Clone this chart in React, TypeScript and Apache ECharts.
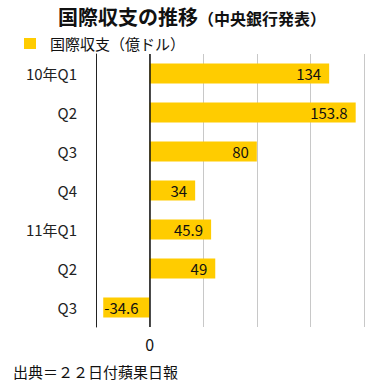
import React, { useEffect, useRef } from "react";
import * as echarts from "echarts";

const categories = ["10年Q1", "Q2", "Q3", "Q4", "11年Q1", "Q2", "Q3"];
const values = [134, 153.8, 80, 34, 45.9, 49, -34.6];
const seriesName = "国際収支（億ドル）";
const titleMain = "国際収支の推移";
const titleSub = "（中央銀行発表）";
const footer = "出典＝２２日付蘋果日報";

const FONT = "'Noto Sans CJK JP', 'Noto Sans', sans-serif";
const YELLOW = "#FFCC00";

export default function App() {
  const ref = useRef<HTMLDivElement>(null);
  useEffect(() => {
    document.body.style.margin = "0";
    const chart = echarts.init(ref.current!, null, { renderer: "svg" });
    chart.setOption({
      animation: false,
      backgroundColor: "#fff",
      textStyle: { fontFamily: FONT },
      title: [
        {
          text: `{a|${titleMain}}{b|${titleSub}}`,
          left: 53,
          top: 1,
          textStyle: {
            rich: {
              a: { fontSize: 20, fontWeight: "bold", color: "#111", fontFamily: FONT },
              b: { fontSize: 16, fontWeight: "bold", color: "#111", fontFamily: FONT, padding: [3, 0, 0, 0] },
            },
          },
        },
        {
          text: footer,
          left: 8,
          top: 359,
          textStyle: { fontSize: 15, fontWeight: "normal", color: "#111", fontFamily: FONT },
        },
      ],
      legend: {
        data: [seriesName],
        left: 19,
        top: 31,
        itemWidth: 12,
        itemHeight: 11,
        itemGap: 10,
        icon: "rect",
        textStyle: { fontSize: 15, color: "#111", fontFamily: FONT, padding: [0, 0, 0, 9] },
      },
      grid: { left: 96, right: 23, top: 54, bottom: 60, containLabel: false },
      xAxis: {
        type: "value",
        min: -40,
        max: 160,
        interval: 40,
        axisLine: { show: false },
        axisTick: { show: false },
        splitLine: { show: true, lineStyle: { color: "#c8c8c8", width: 1 } },
        axisLabel: {
          formatter: (v: number) => (v === 0 ? "0" : ""),
          fontSize: 16,
          color: "#111",
          margin: 9,
          fontFamily: FONT,
        },
      },
      yAxis: {
        type: "category",
        data: categories,
        inverse: true,
        axisLine: { show: true, onZero: false, lineStyle: { color: "#222", width: 1 } },
        axisTick: { show: false },
        axisLabel: { fontSize: 15, color: "#222", margin: 19, fontFamily: FONT },
      },
      series: [
        {
          name: seriesName,
          type: "bar",
          data: values.map((v) => ({
            value: v,
            label:
              v < 0
                ? { position: "insideLeft", distance: 1 }
                : { position: "insideRight", distance: 8 },
          })),
          barWidth: 20,
          itemStyle: { color: YELLOW },
          label: {
            show: true,
            color: "#111",
            fontSize: 15,
            fontFamily: FONT,
          },
          markLine: {
            silent: true,
            symbol: "none",
            label: { show: false },
            lineStyle: { color: "#111", type: "solid", width: 1.5 },
            data: [{ xAxis: 0 }],
          },
        },
      ],
    });
    return () => chart.dispose();
  }, []);
  return <div ref={ref} style={{ width: 387, height: 387 }} />;
}
